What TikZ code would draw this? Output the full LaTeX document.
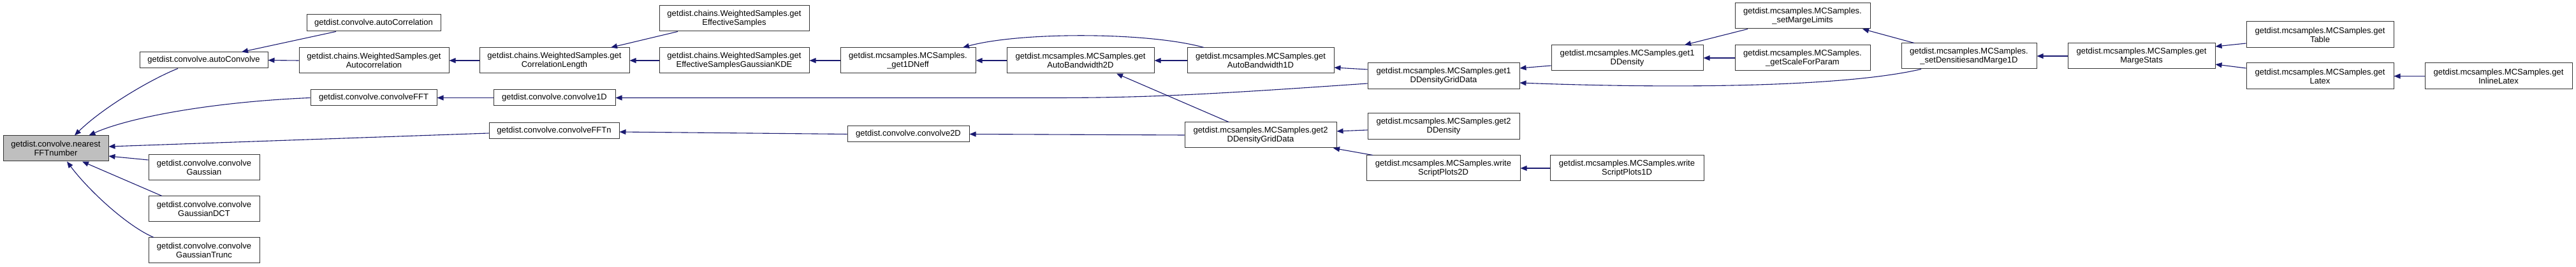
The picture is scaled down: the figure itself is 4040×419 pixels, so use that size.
\documentclass[tikz,border=0pt]{standalone}
\usepackage{fontspec}
\setmainfont{Liberation Sans}
\usetikzlibrary{arrows.meta}
\definecolor{edgecol}{HTML}{191970}
\definecolor{boxline}{HTML}{333333}
\definecolor{rootfill}{HTML}{BFBFBF}
\begin{document}
\begin{tikzpicture}[x=1pt,y=-1pt,
  box/.style={draw=boxline, line width=1pt, fill=white, align=center, inner sep=0pt,
    font=\fontsize{13pt}{14pt}\selectfont},
  callarr/.style={draw=edgecol, line width=1.1pt, {Triangle[length=10pt,width=8pt]}-},
]
\useasboundingbox (0,0) rectangle (4040,419);
% nodes
\node[box, fill=rootfill, minimum width=165pt, minimum height=40pt] (nff) at (87.5,233) {getdist.convolve.nearest\\FFTnumber};
\node[box, minimum width=201pt, minimum height=25pt] (acv) at (319.5,94.5) {getdist.convolve.autoConvolve};
\node[box, minimum width=210pt, minimum height=26pt] (acr) at (586,36) {getdist.convolve.autoCorrelation};
\node[box, minimum width=235pt, minimum height=40pt] (wsac) at (586.5,95) {getdist.chains.WeightedSamples.get\\Autocorrelation};
\node[box, minimum width=198pt, minimum height=25pt] (cfft) at (586,153.5) {getdist.convolve.convolveFFT};
\node[box, minimum width=174pt, minimum height=40pt] (cg) at (320,263) {getdist.convolve.convolve\\Gaussian};
\node[box, minimum width=174pt, minimum height=40pt] (cgd) at (320,328) {getdist.convolve.convolve\\GaussianDCT};
\node[box, minimum width=174pt, minimum height=40pt] (cgt) at (320,393) {getdist.convolve.convolve\\GaussianTrunc};
\node[box, minimum width=235pt, minimum height=40pt] (wscl) at (869.5,95) {getdist.chains.WeightedSamples.get\\CorrelationLength};
\node[box, minimum width=235pt, minimum height=40pt] (wses) at (1151.5,29) {getdist.chains.WeightedSamples.get\\EffectiveSamples};
\node[box, minimum width=235pt, minimum height=40pt] (wskde) at (1151.5,95) {getdist.chains.WeightedSamples.get\\EffectiveSamplesGaussianKDE};
\node[box, minimum width=191pt, minimum height=25pt] (c1d) at (869.5,153.5) {getdist.convolve.convolve1D};
\node[box, minimum width=204pt, minimum height=25pt] (cffn) at (869,205.5) {getdist.convolve.convolveFFTn};
\node[box, minimum width=212pt, minimum height=40pt] (neff) at (1424,95) {getdist.mcsamples.MCSamples.\\\_get1DNeff};
\node[box, minimum width=231pt, minimum height=40pt] (ab2) at (1694.5,95) {getdist.mcsamples.MCSamples.get\\AutoBandwidth2D};
\node[box, minimum width=230pt, minimum height=40pt] (ab1) at (1977,95) {getdist.mcsamples.MCSamples.get\\AutoBandwidth1D};
\node[box, minimum width=191pt, minimum height=25pt] (c2d) at (1424.5,210.5) {getdist.convolve.convolve2D};
\node[box, minimum width=238pt, minimum height=40pt] (g2g) at (1977,212) {getdist.mcsamples.MCSamples.get2\\DDensityGridData};
\node[box, minimum width=238pt, minimum height=41pt] (g1g) at (2264,119.5) {getdist.mcsamples.MCSamples.get1\\DDensityGridData};
\node[box, minimum width=238pt, minimum height=40pt] (g1d) at (2552,91) {getdist.mcsamples.MCSamples.get1\\DDensity};
\node[box, minimum width=238pt, minimum height=41pt] (g2d) at (2264,198.5) {getdist.mcsamples.MCSamples.get2\\DDensity};
\node[box, minimum width=241pt, minimum height=40pt] (ws2) at (2263.5,264) {getdist.mcsamples.MCSamples.write\\ScriptPlots2D};
\node[box, minimum width=241pt, minimum height=40pt] (ws1) at (2551.5,264) {getdist.mcsamples.MCSamples.write\\ScriptPlots1D};
\node[box, minimum width=212pt, minimum height=40pt] (sml) at (2827,25) {getdist.mcsamples.MCSamples.\\\_setMargeLimits};
\node[box, minimum width=212pt, minimum height=40pt] (ssp) at (2827,91) {getdist.mcsamples.MCSamples.\\\_getScaleForParam};
\node[box, minimum width=212pt, minimum height=40pt] (sdm) at (3088,88) {getdist.mcsamples.MCSamples.\\\_setDensitiesandMarge1D};
\node[box, minimum width=231pt, minimum height=40pt] (gms) at (3358.5,88) {getdist.mcsamples.MCSamples.get\\MargeStats};
\node[box, minimum width=231pt, minimum height=41pt] (gt) at (3638.5,54.5) {getdist.mcsamples.MCSamples.get\\Table};
\node[box, minimum width=231pt, minimum height=41pt] (gl) at (3638.5,119.5) {getdist.mcsamples.MCSamples.get\\Latex};
\node[box, minimum width=231pt, minimum height=41pt] (gil) at (3918.5,119.5) {getdist.mcsamples.MCSamples.get\\InlineLatex};
% edges (arrow at callee)
\draw[callarr] ([xshift=29.5pt]nff.north) .. controls (160,170) and (235,125) .. ([xshift=-40.5pt]acv.south);
\draw[callarr] ([xshift=52pt]nff.north) .. controls (200,185) and (330,160) .. (cfft.west);
\draw[callarr] ([yshift=3pt]nff.east) -- ([yshift=-3.5pt]cffn.west);
\draw[callarr] ([yshift=-12pt]nff.east) -- ([yshift=12pt]cg.west);
\draw[callarr] ([xshift=41.5pt]nff.south) -- ([xshift=-66pt]cgd.north);
\draw[callarr] ([xshift=17.5pt]nff.south) .. controls (140,300) and (200,355) .. ([xshift=-79pt]cgt.north);
\draw[callarr] ([xshift=59.5pt]acv.north) -- ([xshift=-59pt]acr.south);
\draw[callarr] (acv.east) -- (wsac.west);
\draw[callarr] (wsac.east) -- (wscl.west);
\draw[callarr] ([xshift=88.5pt]wscl.north) -- ([xshift=-88.5pt]wses.south);
\draw[callarr] (wscl.east) -- (wskde.west);
\draw[callarr] (wskde.east) -- (neff.west);
\draw[callarr] (neff.east) -- (ab2.west);
\draw[callarr] (ab2.east) -- (ab1.west);
\draw[callarr] ([xshift=86pt]neff.north) .. controls (1600,50) and (1800,50) .. ([xshift=-89pt]ab1.north);
\draw[callarr] (cfft.east) -- (c1d.west);
\draw[callarr] (c1d.east) -- (1650,153.5) .. controls (1800,153.5) and (1900,148) .. ([yshift=-11.5pt]g1g.west);
\draw[callarr] ([yshift=-11pt]ab1.east) -- ([yshift=10.5pt]g1g.west);
\draw[callarr] ([yshift=12.5pt]g1g.east) -- ([yshift=-12pt]g1d.west);
\draw[callarr] ([xshift=90pt]g1d.north) -- ([xshift=-86pt]sml.south);
\draw[callarr] (g1d.east) -- (ssp.west);
\draw[callarr] ([xshift=94pt]sml.south) -- ([xshift=-86pt]sdm.north);
\draw[callarr] ([yshift=-10.5pt]g1g.east) .. controls (2650,140) and (2900,135) .. ([xshift=-75pt]sdm.south);
\draw[callarr] (sdm.east) -- (gms.west);
\draw[callarr] ([yshift=15pt]gms.east) -- ([yshift=-13.5pt]gt.west);
\draw[callarr] ([yshift=-13pt]gms.east) -- ([yshift=12.5pt]gl.west);
\draw[callarr] (gl.east) -- (gil.west);
\draw[callarr] ([yshift=-1.5pt]cffn.east) -- (c2d.west);
\draw[callarr] (c2d.east) -- (g2g.west);
\draw[callarr] ([xshift=56.5pt]ab2.south) -- ([xshift=-50pt]g2g.north);
\draw[callarr] ([yshift=6pt]g2g.east) -- ([yshift=-5.5pt]g2d.west);
\draw[callarr] ([xshift=114pt]g2g.south) -- ([xshift=-110.5pt]ws2.north);
\draw[callarr] (ws2.east) -- (ws1.west);
\end{tikzpicture}
\end{document}
